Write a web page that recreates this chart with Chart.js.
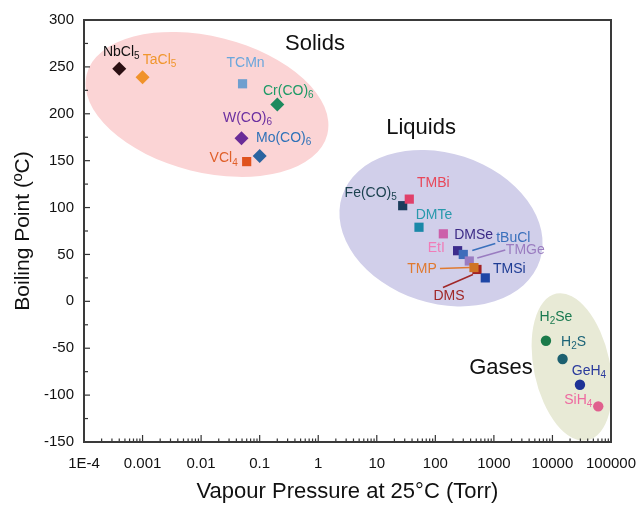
<!DOCTYPE html>
<html><head><meta charset="utf-8">
<script src="https://cdn.jsdelivr.net/npm/chart.js@4.4.1/dist/chart.umd.min.js"></script>
<style>html,body{margin:0;padding:0;background:#fff}#wrap{width:643px;height:506px;position:relative}</style>
</head><body><div id="wrap"><canvas id="c"></canvas></div>
<script>
// ---------- data ----------
const xTickValues = [1e-4, 1e-3, 1e-2, 1e-1, 1, 10, 100, 1000, 10000, 100000];
const xTickLabels = ['1E-4','0.001','0.01','0.1','1','10','100','1000','10000','100000'];

const solidNames    = ['NbCl_5','TaCl_5','TCMn','Cr(CO)_6','W(CO)_6','Mo(CO)_6','VCl_4'];
const solidPressure = [4.0e-4, 1.0e-3, 0.051, 0.20, 0.049, 0.10, 0.060];
const solidBoiling  = [248, 239, 232, 210, 174, 155, 149];

const liquidNames    = ['Fe(CO)_5','TMBi','DMTe','EtI','DMSe','tBuCl','TMGe','DMS','TMP','TMSi'];
const liquidPressure = [27.7, 35.9, 52.6, 137, 240, 300, 380, 514, 457, 713];
const liquidBoiling  = [102, 109, 79, 72, 54, 50, 43, 34, 36, 25];

const gasNames    = ['H_2Se','H_2S','GeH_4','SiH_4'];
const gasPressure = [7750, 14900, 29500, 60600];
const gasBoiling  = [-42, -61.5, -89, -112];

// ---------- styles ----------
const FONT = '"Liberation Sans", Arial, Helvetica, sans-serif';
const solidShapes = ['rectRot','rectRot','rect','rectRot','rectRot','rectRot','rect'];
const solidColors = ['#2a0f12','#f0922a','#6f9fcf','#1d8a5e','#6a2c98','#2a64a0','#e0531e'];
const solidLabelColors = ['#111111','#f0962e','#6aa6dc','#1d9a66','#6b2fa0','#2f72b8','#e0602a'];
const solidLabelOff = [[2,-17],[17,-17],[3,-21],[11,-13],[6,-20],[24,-18],[-23,-3]];

const liquidColors = ['#1b3d5c','#e0406a','#1a88a8','#cc60aa','#3c2c8c','#3e6cba','#9a7cc2','#a32222','#cf7426','#1e46a6'];
const liquidLabelColors = ['#1c4250','#e8485a','#2899ac','#f07cb8','#3c2a86','#3a70bc','#9a7cc0','#a02828','#e07a30','#1e3c94'];
const liquidLabelOff = [[-32,-13],[24,-16],[15,-12],[-7,14],[16,-16],[50,-16],[56,-11],[-28,27],[-52,2],[24,-9]];
const liquidLeaders = [null,null,null,null,null,[9,-4,32,-11],[8,-3,36,-11],[-34,18,-4,5],[-34,1,-4,0],null];

const gasColors = ['#1a7a4a','#1c6070','#1e3296','#e0608e'];
const gasLabelColors = ['#1a7a50','#1c6478','#2a3a9c','#ee6aa0'];
const gasLabelOff = [[10,-24],[11,-17],[9,-14],[-20,-6]];

const groupAnnotations = [
  {text:'Solids',  x:0.88, y:275},
  {text:'Liquids', x:57,   y:185},
  {text:'Gases',   x:1320, y:-71}
];
const ellipses = [
  {x:0.0126, y:210, rx:124, ry:68, rot:14,  color:'rgb(251,212,213)'},
  {x:125,    y:78,  rx:104, ry:75, rot:18,  color:'rgb(209,207,234)'},
  {x:21500,  y:-70, rx:38,  ry:75, rot:-12, color:'rgb(232,234,214)'}
];

function segs(s){
  const out=[]; let cur=''; let i=0;
  while(i<s.length){
    if(s[i]==='_'){ if(cur){out.push({t:cur,sub:false});cur='';} out.push({t:s[i+1],sub:true}); i+=2; }
    else { cur+=s[i]; i++; }
  }
  if(cur) out.push({t:cur,sub:false});
  return out;
}
function drawRich(ctx, text, cx, cy, color, size){
  const parts = segs(text);
  const mf = size+'px '+FONT, sf = Math.round(size*0.74)+'px '+FONT;
  let w=0;
  parts.forEach(p=>{ctx.font=p.sub?sf:mf; p.w=ctx.measureText(p.t).width; w+=p.w;});
  let x = cx - w/2;
  ctx.fillStyle=color; ctx.textBaseline='middle'; ctx.textAlign='left';
  parts.forEach(p=>{ctx.font=p.sub?sf:mf; ctx.fillText(p.t, x, cy + (p.sub? size*0.3:0)); x+=p.w;});
}

const mkData = (xs, ys) => xs.map((v,i)=>({x:v, y:ys[i]}));

const groups = [
  {names:solidNames, off:solidLabelOff, lc:solidLabelColors, leaders:null},
  {names:liquidNames, off:liquidLabelOff, lc:liquidLabelColors, leaders:liquidLeaders},
  {names:gasNames, off:gasLabelOff, lc:gasLabelColors, leaders:null}
];

const decoPlugin = {
  id:'deco',
  beforeDatasetsDraw(chart){
    const {ctx, chartArea:a, scales:{x, y}} = chart;
    ctx.save();
    ctx.beginPath(); ctx.rect(a.left, a.top, a.right-a.left, a.bottom-a.top); ctx.clip();
    ellipses.forEach(e=>{
      ctx.beginPath();
      ctx.ellipse(x.getPixelForValue(e.x), y.getPixelForValue(e.y), e.rx, e.ry, e.rot*Math.PI/180, 0, Math.PI*2);
      ctx.fillStyle=e.color; ctx.fill();
    });
    ctx.restore();
  },
  afterDatasetsDraw(chart){
    const {ctx, chartArea:a, scales:{x, y}} = chart;
    ctx.save();
    groups.forEach((g,gi)=>{
      const meta = chart.getDatasetMeta(gi);
      meta.data.forEach((pt,i)=>{
        const px=pt.x, py=pt.y;
        if(g.leaders && g.leaders[i]){
          const l=g.leaders[i];
          ctx.beginPath(); ctx.moveTo(px+l[0],py+l[1]); ctx.lineTo(px+l[2],py+l[3]);
          ctx.strokeStyle=g.lc[i]; ctx.lineWidth=1.5; ctx.stroke();
        }
        drawRich(ctx, g.names[i], px+g.off[i][0], py+g.off[i][1], g.lc[i], 14);
      });
    });
    groupAnnotations.forEach(t=>{
      ctx.font='22px '+FONT; ctx.fillStyle='#111'; ctx.textAlign='center'; ctx.textBaseline='middle';
      ctx.fillText(t.text, x.getPixelForValue(t.x), y.getPixelForValue(t.y));
    });
    ctx.restore();
  },
  afterDraw(chart){
    const {ctx, chartArea:a, scales:{x, y}} = chart;
    ctx.save();
    ctx.strokeStyle='#333'; ctx.lineWidth=1.2;
    const line=(x1,y1,x2,y2)=>{ctx.beginPath();ctx.moveTo(x1,y1);ctx.lineTo(x2,y2);ctx.stroke();};
    for(let e=-4;e<=5;e++){
      for(let m=1;m<=9;m++){
        const v=m*Math.pow(10,e); if(v>1e5*1.0001) break;
        const px=x.getPixelForValue(v);
        line(px,a.bottom,px,a.bottom-(m===1?7:3.5));
      }
    }
    for(let v=-150; v<=300; v+=25){
      const py=y.getPixelForValue(v);
      line(a.left,py,a.left+(v%50===0?6:4),py);
    }
    ctx.lineWidth=2; ctx.strokeStyle='#3a3a3a';
    ctx.strokeRect(a.left,a.top,a.right-a.left,a.bottom-a.top);
    ctx.restore();
  }
};

new Chart(document.getElementById('c'), {
  type:'scatter',
  data:{
    datasets:[
      {label:'Solids', data:mkData(solidPressure, solidBoiling), pointStyle:solidShapes,
       pointRadius:solidShapes.map(s=>s==='rect'?6.5:7), backgroundColor:solidColors, borderWidth:0},
      {label:'Liquids', data:mkData(liquidPressure, liquidBoiling), pointStyle:'rect',
       pointRadius:6.5, backgroundColor:liquidColors, borderWidth:0},
      {label:'Gases', data:mkData(gasPressure, gasBoiling), pointStyle:'circle',
       pointRadius:5.2, backgroundColor:gasColors, borderWidth:0}
    ]
  },
  options:{
    responsive:true, maintainAspectRatio:false, animation:false,
    layout:{padding:{top:20,right:32,left:0,bottom:0}},
    plugins:{legend:{display:false}, tooltip:{enabled:false}},
    elements:{point:{hoverRadius:7}},
    scales:{
      x:{type:'logarithmic', min:1e-4, max:1e5,
        afterBuildTicks:(s)=>{ s.ticks = xTickValues.map(v=>({value:v, major:true})); },
        afterFit:(s)=>{ s.height=64; s.paddingLeft=0; s.paddingRight=0; },
        grid:{display:false, drawTicks:false}, border:{display:false},
        ticks:{autoSkip:false, maxRotation:0, padding:13, color:'#111',
          font:{family:FONT, size:15}, callback:(v,i)=>xTickLabels[i]},
        title:{display:true, text:'Vapour Pressure at 25°C (Torr)', color:'#111',
          font:{family:FONT, size:22}, padding:{top:0,bottom:1}}
      },
      y:{min:-150, max:300,
        afterFit:(s)=>{ s.width=84; s.paddingTop=0; s.paddingBottom=0; },
        grid:{display:false, drawTicks:false}, border:{display:false},
        ticks:{stepSize:50, padding:10, color:'#111', font:{family:FONT, size:15}},
        title:{display:true, text:'Boiling Point (ºC)', color:'#111',
          font:{family:FONT, size:21}, padding:{top:11,bottom:0}}
      }
    }
  },
  plugins:[decoPlugin]
});
</script></body></html>
